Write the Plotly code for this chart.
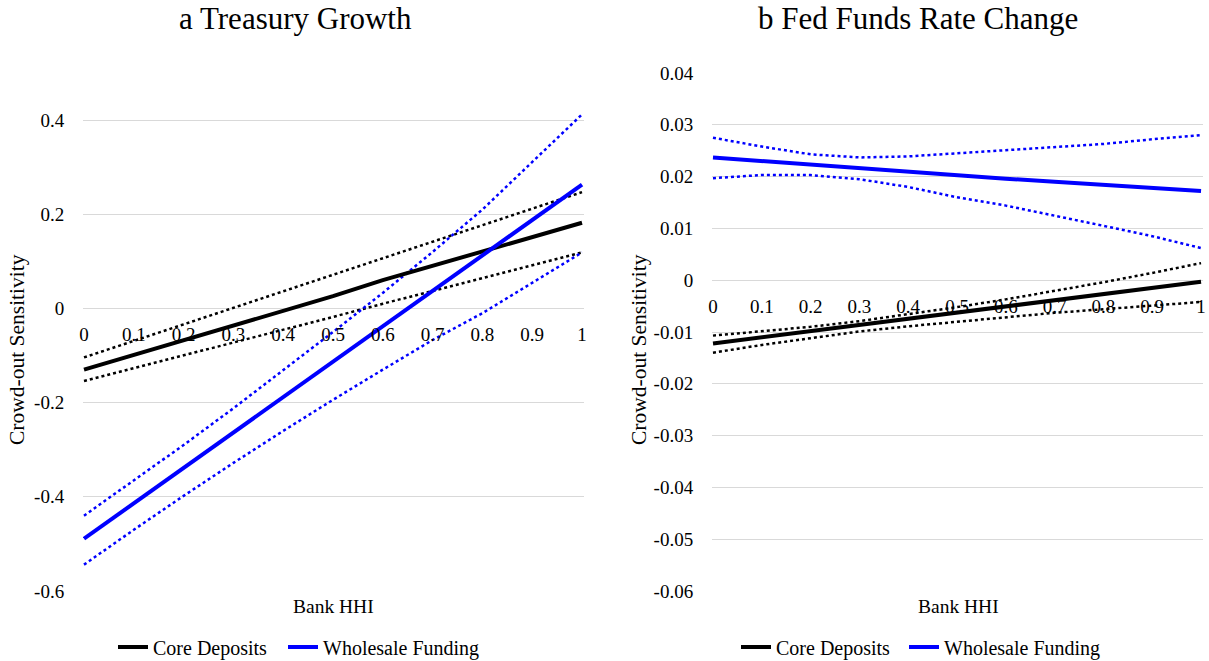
import plotly.graph_objects as go

# ---------------- data ----------------
hhi = [0.0, 0.1, 0.2, 0.3, 0.4, 0.5, 0.6, 0.7, 0.8, 0.9, 1.0]
x_ticks = [0, 0.1, 0.2, 0.3, 0.4, 0.5, 0.6, 0.7, 0.8, 0.9, 1]
x_tick_text = ["0", "0.1", "0.2", "0.3", "0.4", "0.5", "0.6", "0.7", "0.8", "0.9", "1"]

# Panel a: Treasury Growth
a_core = [-0.130, -0.099, -0.068, -0.037, -0.005, 0.026, 0.060, 0.090, 0.120, 0.151, 0.182]
a_core_hi = [-0.104, -0.069, -0.034, 0.001, 0.036, 0.072, 0.107, 0.142, 0.177, 0.212, 0.247]
a_core_lo = [-0.154, -0.127, -0.099, -0.072, -0.045, -0.018, 0.010, 0.037, 0.064, 0.092, 0.119]
a_whole = [-0.489, -0.414, -0.339, -0.263, -0.188, -0.113, -0.038, 0.037, 0.113, 0.188, 0.263]
a_whole_hi = [-0.440, -0.365, -0.290, -0.212, -0.132, -0.050, 0.033, 0.120, 0.210, 0.310, 0.412]
a_whole_lo = [-0.544, -0.470, -0.398, -0.328, -0.260, -0.194, -0.130, -0.067, -0.010, 0.055, 0.119]
a_y_ticks = [-0.6, -0.4, -0.2, 0, 0.2, 0.4]
a_y_text = ["-0.6", "-0.4", "-0.2", "0", "0.2", "0.4"]

# Panel b: Fed Funds Rate Change
b_core = [-0.0122, -0.0110, -0.0098, -0.0086, -0.0074, -0.0063, -0.0051, -0.0039, -0.0027, -0.0015, -0.0003]
b_core_hi = [-0.0107, -0.0098, -0.0090, -0.0079, -0.0066, -0.0052, -0.0037, -0.0021, -0.0004, 0.0014, 0.0033]
b_core_lo = [-0.0140, -0.0125, -0.0112, -0.0099, -0.0089, -0.0080, -0.0071, -0.0063, -0.0056, -0.0049, -0.0042]
b_whole = [0.0237, 0.0230, 0.0224, 0.0217, 0.0210, 0.0203, 0.0196, 0.0190, 0.0184, 0.0178, 0.0172]
b_whole_hi = [0.0275, 0.0258, 0.0243, 0.0237, 0.0239, 0.0245, 0.0251, 0.0258, 0.0263, 0.0272, 0.0280]
b_whole_lo = [0.0197, 0.0203, 0.0203, 0.0195, 0.0180, 0.0160, 0.0144, 0.0125, 0.0105, 0.0085, 0.0062]
b_y_ticks = [-0.06, -0.05, -0.04, -0.03, -0.02, -0.01, 0, 0.01, 0.02, 0.03, 0.04]
b_y_text = ["-0.06", "-0.05", "-0.04", "-0.03", "-0.02", "-0.01", "0", "0.01", "0.02", "0.03", "0.04"]

series_names = ["Core Deposits", "Wholesale Funding"]
titles = ["a Treasury Growth", "b Fed Funds Rate Change"]
x_title = "Bank HHI"
y_title = "Crowd-out Sensitivity"

# ---------------- figure ----------------
W, H = 1209, 661
MT, MB = 73, 70          # plot area spans y = 73 .. 591 px
PH = H - MT - MB
BLACK = "#000000"
BLUE = "#0000FF"
FONT = "Liberation Serif, Times New Roman, Times, serif"

fig = go.Figure()


def add_panel(xa, ya, core, core_hi, core_lo, whole, whole_hi, whole_lo, leg_core, leg_whole):
    for vals in (core_hi, core_lo):
        fig.add_trace(go.Scatter(x=hhi, y=vals, mode="lines", xaxis=xa, yaxis=ya,
                                 line=dict(color=BLACK, width=2.5, dash="dot"),
                                 showlegend=False, hoverinfo="skip"))
    for vals in (whole_hi, whole_lo):
        fig.add_trace(go.Scatter(x=hhi, y=vals, mode="lines", xaxis=xa, yaxis=ya,
                                 line=dict(color=BLUE, width=2.5, dash="dot"),
                                 showlegend=False, hoverinfo="skip"))
    fig.add_trace(go.Scatter(x=hhi, y=core, mode="lines", xaxis=xa, yaxis=ya,
                             name=series_names[0], legend=leg_core,
                             line=dict(color=BLACK, width=4)))
    fig.add_trace(go.Scatter(x=hhi, y=whole, mode="lines", xaxis=xa, yaxis=ya,
                             name=series_names[1], legend=leg_whole,
                             line=dict(color=BLUE, width=4)))


add_panel("x", "y", a_core, a_core_hi, a_core_lo, a_whole, a_whole_hi, a_whole_lo,
          "legend", "legend2")
add_panel("x2", "y2", b_core, b_core_hi, b_core_lo, b_whole, b_whole_hi, b_whole_lo,
          "legend3", "legend4")

xdom1 = [83 / W, 584 / W]
xdom2 = [712 / W, 1203 / W]

a_range = [-0.6, 0.5]
b_range = [-0.06, 0.04]


def zero_pos(rng):
    return (0 - rng[0]) / (rng[1] - rng[0])


def py(px):
    """pixel y (from top of page) -> paper fraction"""
    return (H - MB - px) / PH


def px_x(px):
    return px / W


tick_font = dict(family=FONT, size=19, color="#000000")

common_x = dict(range=[-0.002, 1.004], tickvals=x_ticks, ticktext=x_tick_text, showgrid=False,
                zeroline=False, showline=False, ticks="outside", ticklen=9,
                tickcolor="rgba(0,0,0,0)", tickfont=tick_font,
                anchor="free", automargin=False, fixedrange=True)
common_y = dict(domain=[0, 1], showgrid=True, gridcolor="#d9d9d9", gridwidth=1,
                zeroline=False, showline=False, ticks="outside", ticklen=14,
                tickcolor="rgba(0,0,0,0)", tickfont=tick_font, automargin=False,
                fixedrange=True)
legend_common = dict(orientation="h", xanchor="left", yanchor="middle",
                     font=dict(family=FONT, size=20, color="#000000"), itemwidth=30,
                     bgcolor="rgba(0,0,0,0)", y=py(647))
fig.update_layout(
    xaxis=dict(domain=xdom1, position=zero_pos(a_range), **common_x),
    xaxis2=dict(domain=xdom2, position=zero_pos(b_range), **common_x),
    yaxis=dict(range=a_range, tickvals=a_y_ticks, ticktext=a_y_text, anchor="x", **common_y),
    yaxis2=dict(range=b_range, tickvals=b_y_ticks, ticktext=b_y_text, anchor="x2", **common_y),
    legend=dict(x=px_x(113), **legend_common),
    legend2=dict(x=px_x(283), **legend_common),
    legend3=dict(x=px_x(736), **legend_common),
    legend4=dict(x=px_x(904), **legend_common),
    width=W, height=H,
    margin=dict(l=0, r=0, t=MT, b=MB, autoexpand=False),
    paper_bgcolor="white", plot_bgcolor="white",
    font=dict(family=FONT, color="#000000"),
)

ann = []
for cx, t in ((295, titles[0]), (918, titles[1])):
    ann.append(dict(text=t, x=px_x(cx), y=py(18), xref="paper", yref="paper",
                    xanchor="center", yanchor="middle", showarrow=False,
                    font=dict(family=FONT, size=31, color="#000000")))
for cx in (333, 958):
    ann.append(dict(text=x_title, x=px_x(cx), y=py(606), xref="paper", yref="paper",
                    xanchor="center", yanchor="middle", showarrow=False,
                    font=dict(family=FONT, size=19.5, color="#000000")))
for cx in (17, 639):
    ann.append(dict(text=y_title, x=px_x(cx), y=py(350), xref="paper", yref="paper",
                    xanchor="center", yanchor="middle", showarrow=False, textangle=-90,
                    font=dict(family=FONT, size=21.5, color="#000000")))
fig.update_layout(annotations=ann)

fig.write_html("out.html", config={"displayModeBar": False},
               post_script="document.body.style.margin='0';document.body.style.overflow='hidden';")
